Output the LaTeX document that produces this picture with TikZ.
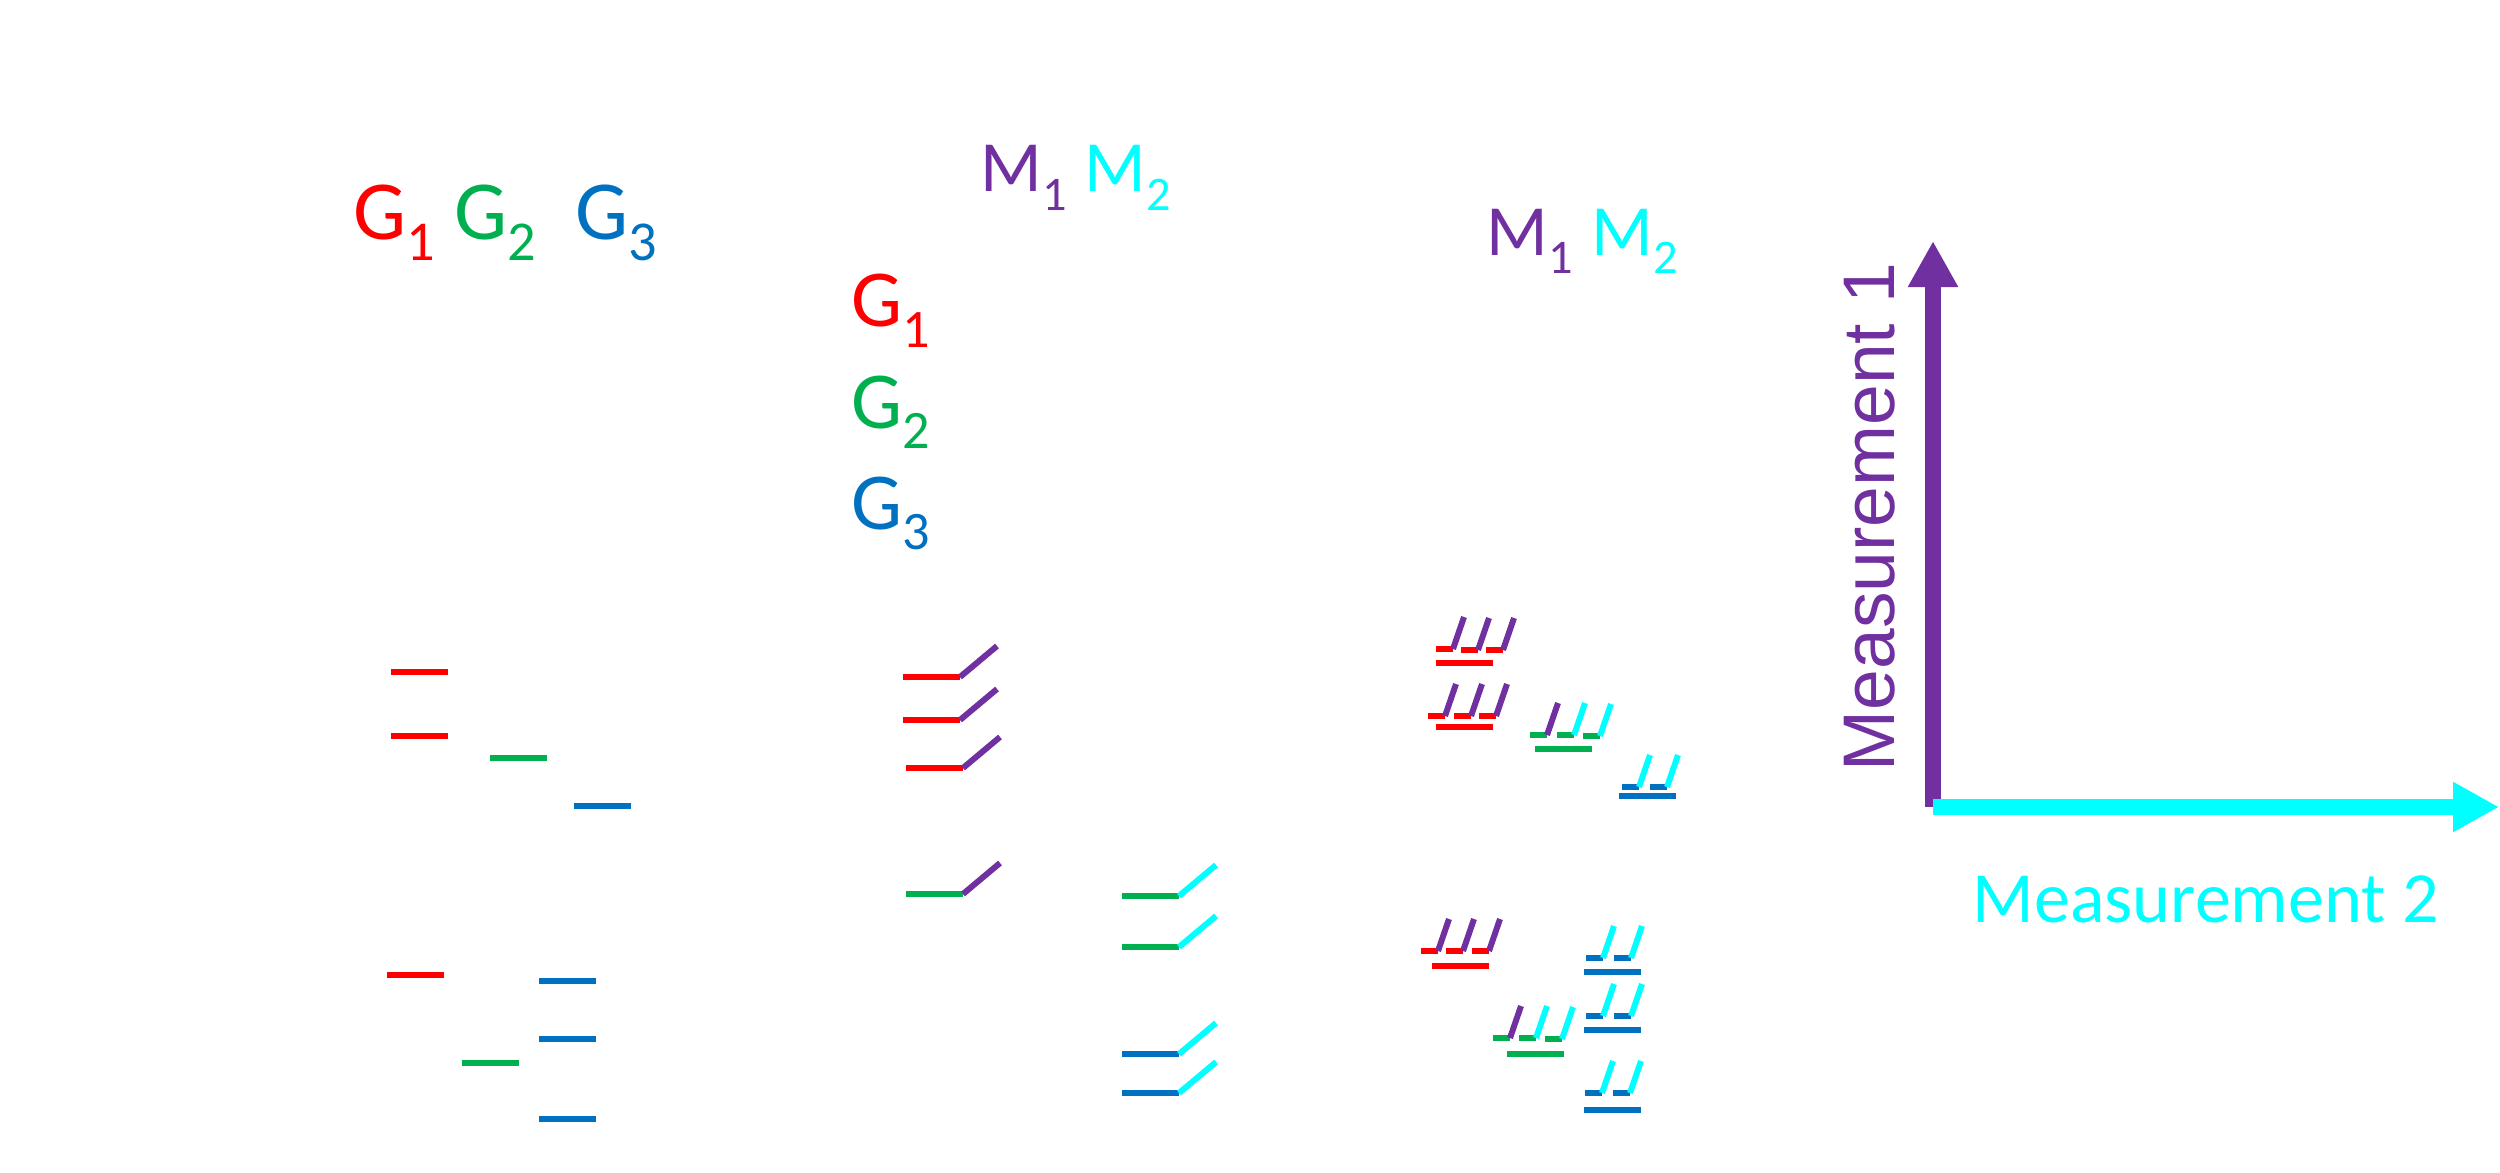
\documentclass[tikz,border=0pt]{standalone}
\usepackage{fontspec}
\setmainfont{Carlito}
\newfontfamily\axisfont{Liberation Sans}
\usepackage{graphicx}
\usepackage{tikz}
\usetikzlibrary{arrows.meta}
\usepackage{xcolor}

\definecolor{gred}{RGB}{255,0,0}
\definecolor{ggreen}{RGB}{0,176,80}
\definecolor{gblue}{RGB}{0,112,192}
\definecolor{mpurple}{RGB}{112,48,160}
\definecolor{mcyan}{RGB}{0,255,255}
\newcommand{\lowidx}[1]{\raisebox{-0.25em}{\scalebox{0.67}{#1}}}

\begin{document}
\begin{tikzpicture}[x=0.01cm, y=-0.01cm, >={Triangle[length=0.46cm,width=0.47cm]},
  every node/.style={inner sep=0pt, anchor=base west},
  gene/.style={line width=1.5pt},
  meas/.style={line width=1.7pt},
  bigfont/.style={font=\fontsize{23.9}{28}\selectfont},
  midfont/.style={font=\fontsize{23}{28}\selectfont},
  mfont/.style={font=\fontsize{20.5}{24}\selectfont}]

\useasboundingbox (0,0) rectangle (2500,1173);

% Labels, first column
\node[gred,bigfont] at (353,239) (ga1) {G\lowidx{1}};
\node[ggreen,bigfont] at (454,239) (ga2) {G\lowidx{2}};
\node[gblue,bigfont] at (575,239) (ga3) {G\lowidx{3}};

% Labels, second column
\node[mpurple,mfont] at (980,192) (mb1) {M\lowidx{1}};
\node[mcyan,mfont] at (1084,192) (mb2) {M\lowidx{2}};
\node[gred,midfont] at (851,327) (gb1) {G\lowidx{1}};
\node[ggreen,midfont] at (851,428) (gb2) {G\lowidx{2}};
\node[gblue,midfont] at (851,529) (gb3) {G\lowidx{3}};

% Labels, third column
\node[mpurple,mfont] at (1486,255) (mc1) {M\lowidx{1}};
\node[mcyan,mfont] at (1591,255) (mc2) {M\lowidx{2}};

% Genes alone
\foreach \x/\y/\c in {391/672/gred, 391/736/gred, 490/758/ggreen, 574/806/gblue,
                      387/975/gred, 539/981/gblue, 539/1039/gblue, 462/1063/ggreen,
                      539/1119/gblue} {
  \draw[gene,\c] (\x,\y) -- ++(57,0);
}

% Genes with one measurement
\foreach \x/\y/\c/\m in {903/677/gred/mpurple, 903/720/gred/mpurple, 906/768/gred/mpurple,
                         906/894/ggreen/mpurple, 1122/896/ggreen/mcyan, 1122/947/ggreen/mcyan,
                         1122/1054/gblue/mcyan, 1122/1093/gblue/mcyan} {
  \draw[gene,\c] (\x,\y) -- ++(57,0);
  \draw[meas,\m] (\x+57,\y) -- ++(37,-31);
}

% Split genes with several measurements
\foreach \x/\y/\c/\m in {1436/649/gred/mpurple, 1461/650/gred/mpurple, 1486/650/gred/mpurple,
                         1428/716/gred/mpurple, 1454/716/gred/mpurple, 1479/716/gred/mpurple,
                         1530/735/ggreen/mpurple, 1557/735/ggreen/mcyan, 1583/736/ggreen/mcyan,
                         1622/787/gblue/mcyan, 1650/787/gblue/mcyan,
                         1421/951/gred/mpurple, 1446/951/gred/mpurple, 1472/951/gred/mpurple,
                         1493/1038/ggreen/mpurple, 1519/1038/ggreen/mcyan, 1545/1039/ggreen/mcyan,
                         1586/958/gblue/mcyan, 1614/958/gblue/mcyan,
                         1586/1016/gblue/mcyan, 1614/1016/gblue/mcyan,
                         1585/1093/gblue/mcyan, 1613/1093/gblue/mcyan} {
  \draw[gene,\c] (\x,\y) -- ++(17,0);
  \draw[meas,\m] (\x+17,\y) -- ++(11,-32);
}
\foreach \x/\y/\c in {1436/663/gred, 1436/727/gred, 1535/749/ggreen, 1619/796/gblue,
                      1432/966/gred, 1507/1054/ggreen, 1584/972/gblue, 1584/1030/gblue,
                      1584/1110/gblue} {
  \draw[gene,\c] (\x,\y) -- ++(57,0);
}

% Axes
\coordinate (origin) at (1933,807);
\coordinate (m1top) at (1933,241);
\coordinate (m2end) at (2499,807);
\draw[->,mpurple,line width=4.4pt] (origin) -- (m1top);
\draw[->,mcyan,line width=4.4pt] (origin) -- (m2end);
\node[mpurple,rotate=90,anchor=base,font=\axisfont\fontsize{20.8}{24}\selectfont] at (1894,517) (m1label) {Measurement 1};
\node[mcyan,font=\fontsize{20.5}{24}\selectfont] at (1972,922) (m2label) {Measurement 2};

\end{tikzpicture}
\end{document}
